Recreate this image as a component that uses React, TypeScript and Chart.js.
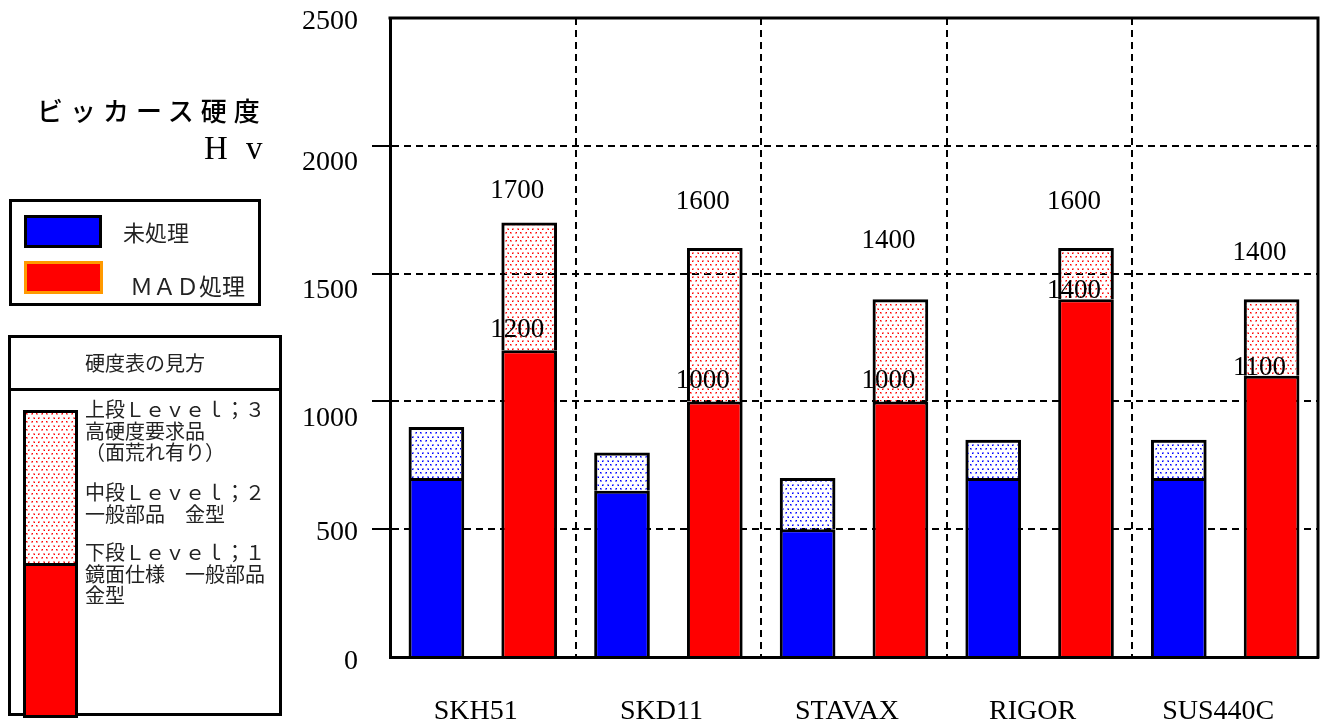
import React, { useEffect, useMemo, useRef } from "react";
import { Chart, registerables } from "chart.js";

Chart.register(...registerables);

// Materials and Vickers hardness (Hv) ranges
const materials = ["SKH51", "SKD11", "STAVAX", "RIGOR", "SUS440C"];
const untreatedBase = [700, 650, 500, 700, 700];
const untreatedTop = [900, 800, 700, 850, 850];
const madBase = [1200, 1000, 1000, 1400, 1100];
const madTop = [1700, 1600, 1400, 1600, 1400];
const yTickValues = [0, 500, 1000, 1500, 2000, 2500];

// Hand placement of the value captions (pixels above the value they state)
const madTopLabelLift = [32, 46, 58, 46, 46];
const madBaseLabelLift = [20, 20, 20, 8, 8];
const yLabelDrop: Record<number, number> = { 0: 5, 500: 3, 1000: 17, 1500: 17, 2000: 17, 2500: 4 };

const SERIF = '"Liberation Serif", "Times New Roman", serif';
const JP = '"Noto Sans CJK JP", "Noto Sans", sans-serif';

// Small stipple tile: scattered dots on a transparent ground
function stippleTile(dark: string, light: string): HTMLCanvasElement {
  const c = document.createElement("canvas");
  c.width = 10;
  c.height = 8;
  const g = c.getContext("2d")!;
  const dots = [
    [0, 0],
    [5, 0],
    [2, 4],
    [7, 4],
  ];
  dots.forEach(([x, y], i) => {
    g.fillStyle = light;
    g.fillRect(x, y, 2, 2);
    g.fillStyle = dark;
    g.fillRect(x + (i % 2), y + ((i >> 1) % 2), 1, 1);
  });
  return c;
}

const captionPlugin = {
  id: "captions",
  afterDatasetsDraw(chart: any) {
    const { ctx, scales } = chart;
    const xs = scales.x;
    const ys = scales.y;
    const area = chart.chartArea;
    ctx.save();

    // frame: top and right edges of the plot box
    ctx.strokeStyle = "#000";
    ctx.lineWidth = 3;
    ctx.beginPath();
    ctx.moveTo(area.left - 1.5, area.top);
    ctx.lineTo(area.right, area.top);
    ctx.lineTo(area.right, area.bottom + 1.5);
    ctx.stroke();

    ctx.fillStyle = "#000";

    // value axis labels
    ctx.font = `28px ${SERIF}`;
    ctx.textAlign = "right";
    ctx.textBaseline = "middle";
    yTickValues.forEach((v) => {
      ctx.fillText(String(v), ys.right - 32, ys.getPixelForValue(v) + yLabelDrop[v]);
    });

    // category labels
    ctx.font = `28px ${SERIF}`;
    ctx.textAlign = "center";
    materials.forEach((m, i) => {
      ctx.fillText(m, xs.getPixelForValue(i) - 7, xs.bottom - 10);
    });

    // MAD value captions
    ctx.font = `27px ${SERIF}`;
    const meta = chart.getDatasetMeta(3);
    meta.data.forEach((bar: any, i: number) => {
      const cx = bar.x - 12;
      ctx.fillText(String(madTop[i]), cx, ys.getPixelForValue(madTop[i]) - madTopLabelLift[i]);
      ctx.fillText(String(madBase[i]), cx, ys.getPixelForValue(madBase[i]) - madBaseLabelLift[i]);
    });

    ctx.restore();
  },
};

export default function App() {
  const canvasRef = useRef<HTMLCanvasElement | null>(null);

  const redStippleUrl = useMemo(
    () => stippleTile("#ff0000", "rgba(255,110,110,0.75)").toDataURL(),
    []
  );

  useEffect(() => {
    const canvas = canvasRef.current;
    if (!canvas) return;
    const ctx = canvas.getContext("2d")!;
    const bluePattern = ctx.createPattern(stippleTile("#0000ff", "rgba(100,100,255,0.75)"), "repeat");
    const redPattern = ctx.createPattern(stippleTile("#ff0000", "rgba(255,110,110,0.75)"), "repeat");

    const gridColor = (c: any) =>
      c.tick && (c.tick.value === 0 || c.tick.value === 2500) ? "rgba(0,0,0,0)" : "#000";

    const chart = new Chart(canvas, {
      type: "bar",
      data: {
        labels: materials,
        datasets: [
          { label: "未処理", data: untreatedBase, stack: "raw", backgroundColor: "#0000ff" },
          {
            label: "未処理 上段",
            data: untreatedBase.map((b, i) => [b, untreatedTop[i]]),
            stack: "raw",
            backgroundColor: bluePattern as any,
          },
          { label: "MAD処理", data: madBase, stack: "mad", backgroundColor: "#ff0000" },
          {
            label: "MAD処理 上段",
            data: madBase.map((b, i) => [b, madTop[i]]),
            stack: "mad",
            backgroundColor: redPattern as any,
          },
        ] as any,
      },
      options: {
        responsive: false,
        animation: false,
        devicePixelRatio: 1,
        layout: { padding: { top: 18, right: 6, left: 0, bottom: 0 } },
        plugins: { legend: { display: false }, tooltip: { enabled: false } },
        datasets: {
          bar: {
            categoryPercentage: 1,
            barPercentage: 0.6,
            borderWidth: 3,
            borderColor: "#000",
            borderSkipped: "start",
          },
        },
        scales: {
          x: {
            grid: { offset: true, color: "#000", lineWidth: 2, drawTicks: false },
            border: { display: true, color: "#000", width: 3, dash: [7, 5] },
            ticks: { display: false },
            afterFit: (s: any) => {
              s.height = 65;
            },
          },
          y: {
            stacked: false,
            min: 0,
            max: 2500,
            ticks: { stepSize: 500, display: false },
            grid: {
              color: gridColor,
              lineWidth: 2,
              drawTicks: true,
              tickLength: 18,
              tickWidth: 2,
              tickColor: gridColor,
              tickBorderDash: [],
            },
            border: { display: true, color: "#000", width: 3, dash: [7, 5] },
            afterFit: (s: any) => {
              s.width = 390;
            },
          },
        },
      } as any,
      plugins: [captionPlugin],
    });
    return () => chart.destroy();
  }, []);

  const guideLine: React.CSSProperties = {
    position: "absolute",
    left: 85,
    fontFamily: JP,
    fontSize: 20,
    lineHeight: "21.5px",
    color: "#222",
    whiteSpace: "pre",
  };

  return (
    <div
      style={{
        position: "fixed",
        left: 0,
        top: 0,
        width: 1324,
        height: 722,
        background: "#fff",
        overflow: "hidden",
      }}
    >
      <canvas
        ref={canvasRef}
        width={1324}
        height={722}
        style={{ position: "absolute", left: 0, top: 0, width: 1324, height: 722 }}
      />

      {/* axis title */}
      <div
        style={{
          position: "absolute",
          left: 37,
          top: 95,
          fontFamily: JP,
          fontSize: 26,
          lineHeight: "30px",
          letterSpacing: 7,
          color: "#000",
          fontWeight: 500,
          whiteSpace: "pre",
        }}
      >
        ビッカース硬度
      </div>
      <div style={{ position: "absolute", left: 204, top: 130, fontFamily: SERIF, fontSize: 33, lineHeight: "36px" }}>
        H
      </div>
      <div style={{ position: "absolute", left: 246, top: 130, fontFamily: SERIF, fontSize: 33, lineHeight: "36px" }}>
        v
      </div>

      {/* series key */}
      <div
        style={{
          position: "absolute",
          left: 9,
          top: 199,
          width: 252,
          height: 107,
          border: "3px solid #000",
          boxSizing: "border-box",
        }}
      />
      <div
        style={{
          position: "absolute",
          left: 24,
          top: 215,
          width: 78,
          height: 33,
          background: "#0000ff",
          border: "3px solid #000",
          boxSizing: "border-box",
        }}
      />
      <div
        style={{ position: "absolute", left: 123, top: 218, fontFamily: JP, fontSize: 22, lineHeight: "26px", color: "#222" }}
      >
        未処理
      </div>
      <div
        style={{
          position: "absolute",
          left: 24,
          top: 261,
          width: 79,
          height: 33,
          background: "#ff0000",
          border: "3px solid #ff9900",
          boxSizing: "border-box",
        }}
      />
      <div
        style={{ position: "absolute", left: 130, top: 272, fontFamily: JP, fontSize: 23, lineHeight: "26px", color: "#222" }}
      >
        ＭＡＤ処理
      </div>

      {/* reading guide */}
      <div
        style={{
          position: "absolute",
          left: 8,
          top: 335,
          width: 274,
          height: 381,
          border: "3px solid #000",
          boxSizing: "border-box",
        }}
      />
      <div style={{ position: "absolute", left: 8, top: 388, width: 274, height: 3, background: "#000" }} />
      <div
        style={{
          position: "absolute",
          left: 8,
          top: 350,
          width: 274,
          textAlign: "center",
          fontFamily: JP,
          fontSize: 20,
          lineHeight: "26px",
          color: "#222",
        }}
      >
        硬度表の見方
      </div>
      <div
        style={{
          position: "absolute",
          left: 23,
          top: 410,
          width: 55,
          height: 156,
          border: "3px solid #000",
          boxSizing: "border-box",
          backgroundImage: `url(${redStippleUrl})`,
        }}
      />
      <div
        style={{
          position: "absolute",
          left: 23,
          top: 563,
          width: 55,
          height: 155,
          background: "#ff0000",
          border: "3px solid #000",
          boxSizing: "border-box",
        }}
      />
      <div style={{ ...guideLine, top: 398 }}>{"上段Ｌｅｖｅｌ；３\n高硬度要求品\n（面荒れ有り）"}</div>
      <div style={{ ...guideLine, top: 481 }}>{"中段Ｌｅｖｅｌ；２\n一般部品　金型"}</div>
      <div style={{ ...guideLine, top: 541 }}>{"下段Ｌｅｖｅｌ；１\n鏡面仕様　一般部品\n金型"}</div>
    </div>
  );
}
